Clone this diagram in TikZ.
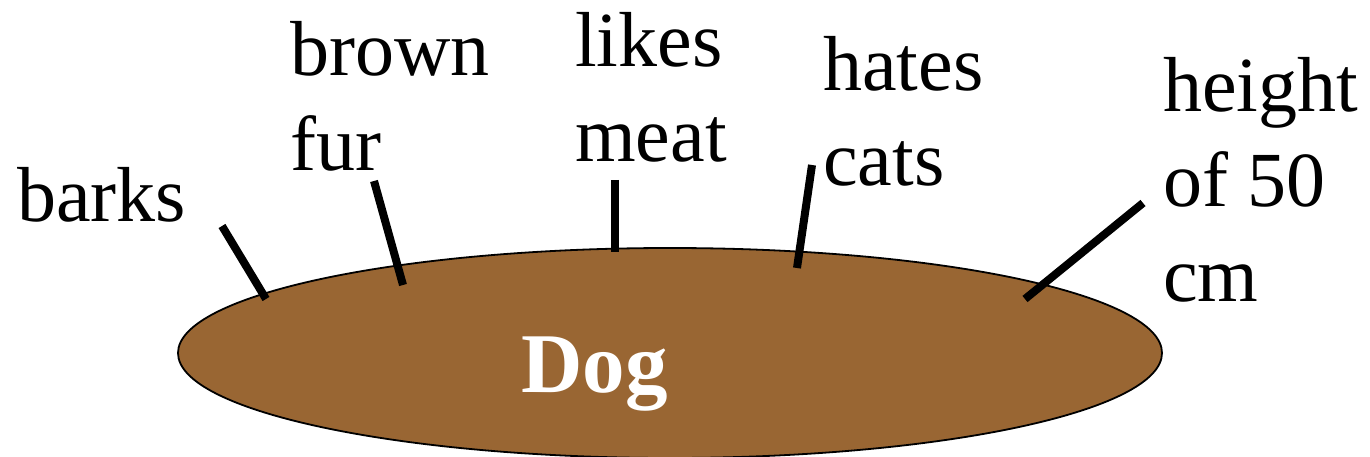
\documentclass[tikz,border=0pt]{standalone}
\usepackage{fontspec}
\setmainfont{Liberation Serif}
\usetikzlibrary{shapes.geometric}
\definecolor{dogbrown}{RGB}{153,102,51}
\newcommand{\twolines}[2]{\vtop{\baselineskip=95pt\hbox{#1}\hbox{#2}}}
\newcommand{\threelines}[3]{\vtop{\baselineskip=95pt\hbox{#1}\hbox{#2}\hbox{#3}}}
\begin{document}
\begin{tikzpicture}[x=1pt,y=-1pt,
  lbl/.style={anchor=base west,inner sep=0pt,font=\fontsize{78}{95}\selectfont},
  stick/.style={line width=8pt,line cap=butt}]
\useasboundingbox (0,0) rectangle (1370,457);
\node (body) [ellipse,draw=black,line width=1.8pt,fill=dogbrown,minimum width=984pt,minimum height=210pt,inner sep=0pt] at (670,353) {};
\node (dog) [anchor=base west,inner sep=0pt,text=white,font=\fontsize{85}{95}\selectfont\bfseries] at (521,392) {Dog};
\node (barks) [lbl] at (17,222) {barks};
\node (brown) [lbl] at (290,76) {\twolines{brown}{fur}};
\node (likes) [lbl] at (575,67) {\twolines{likes}{meat}};
\node (hates) [lbl] at (823,91) {\twolines{hates}{cats}};
\node (height) [lbl] at (1163,112) {\threelines{height}{of 50}{cm}};
\coordinate (b1) at (222,226); \coordinate (b2) at (266,299);
\coordinate (f1) at (374,181); \coordinate (f2) at (403,285);
\coordinate (m1) at (615,180); \coordinate (m2) at (615,252);
\coordinate (c1) at (812,165); \coordinate (c2) at (797,268);
\coordinate (h1) at (1143,203); \coordinate (h2) at (1025,299);
\draw[stick] (b1) -- (b2);
\draw[stick] (f1) -- (f2);
\draw[stick] (m1) -- (m2);
\draw[stick] (c1) -- (c2);
\draw[stick] (h1) -- (h2);
\end{tikzpicture}
\end{document}
